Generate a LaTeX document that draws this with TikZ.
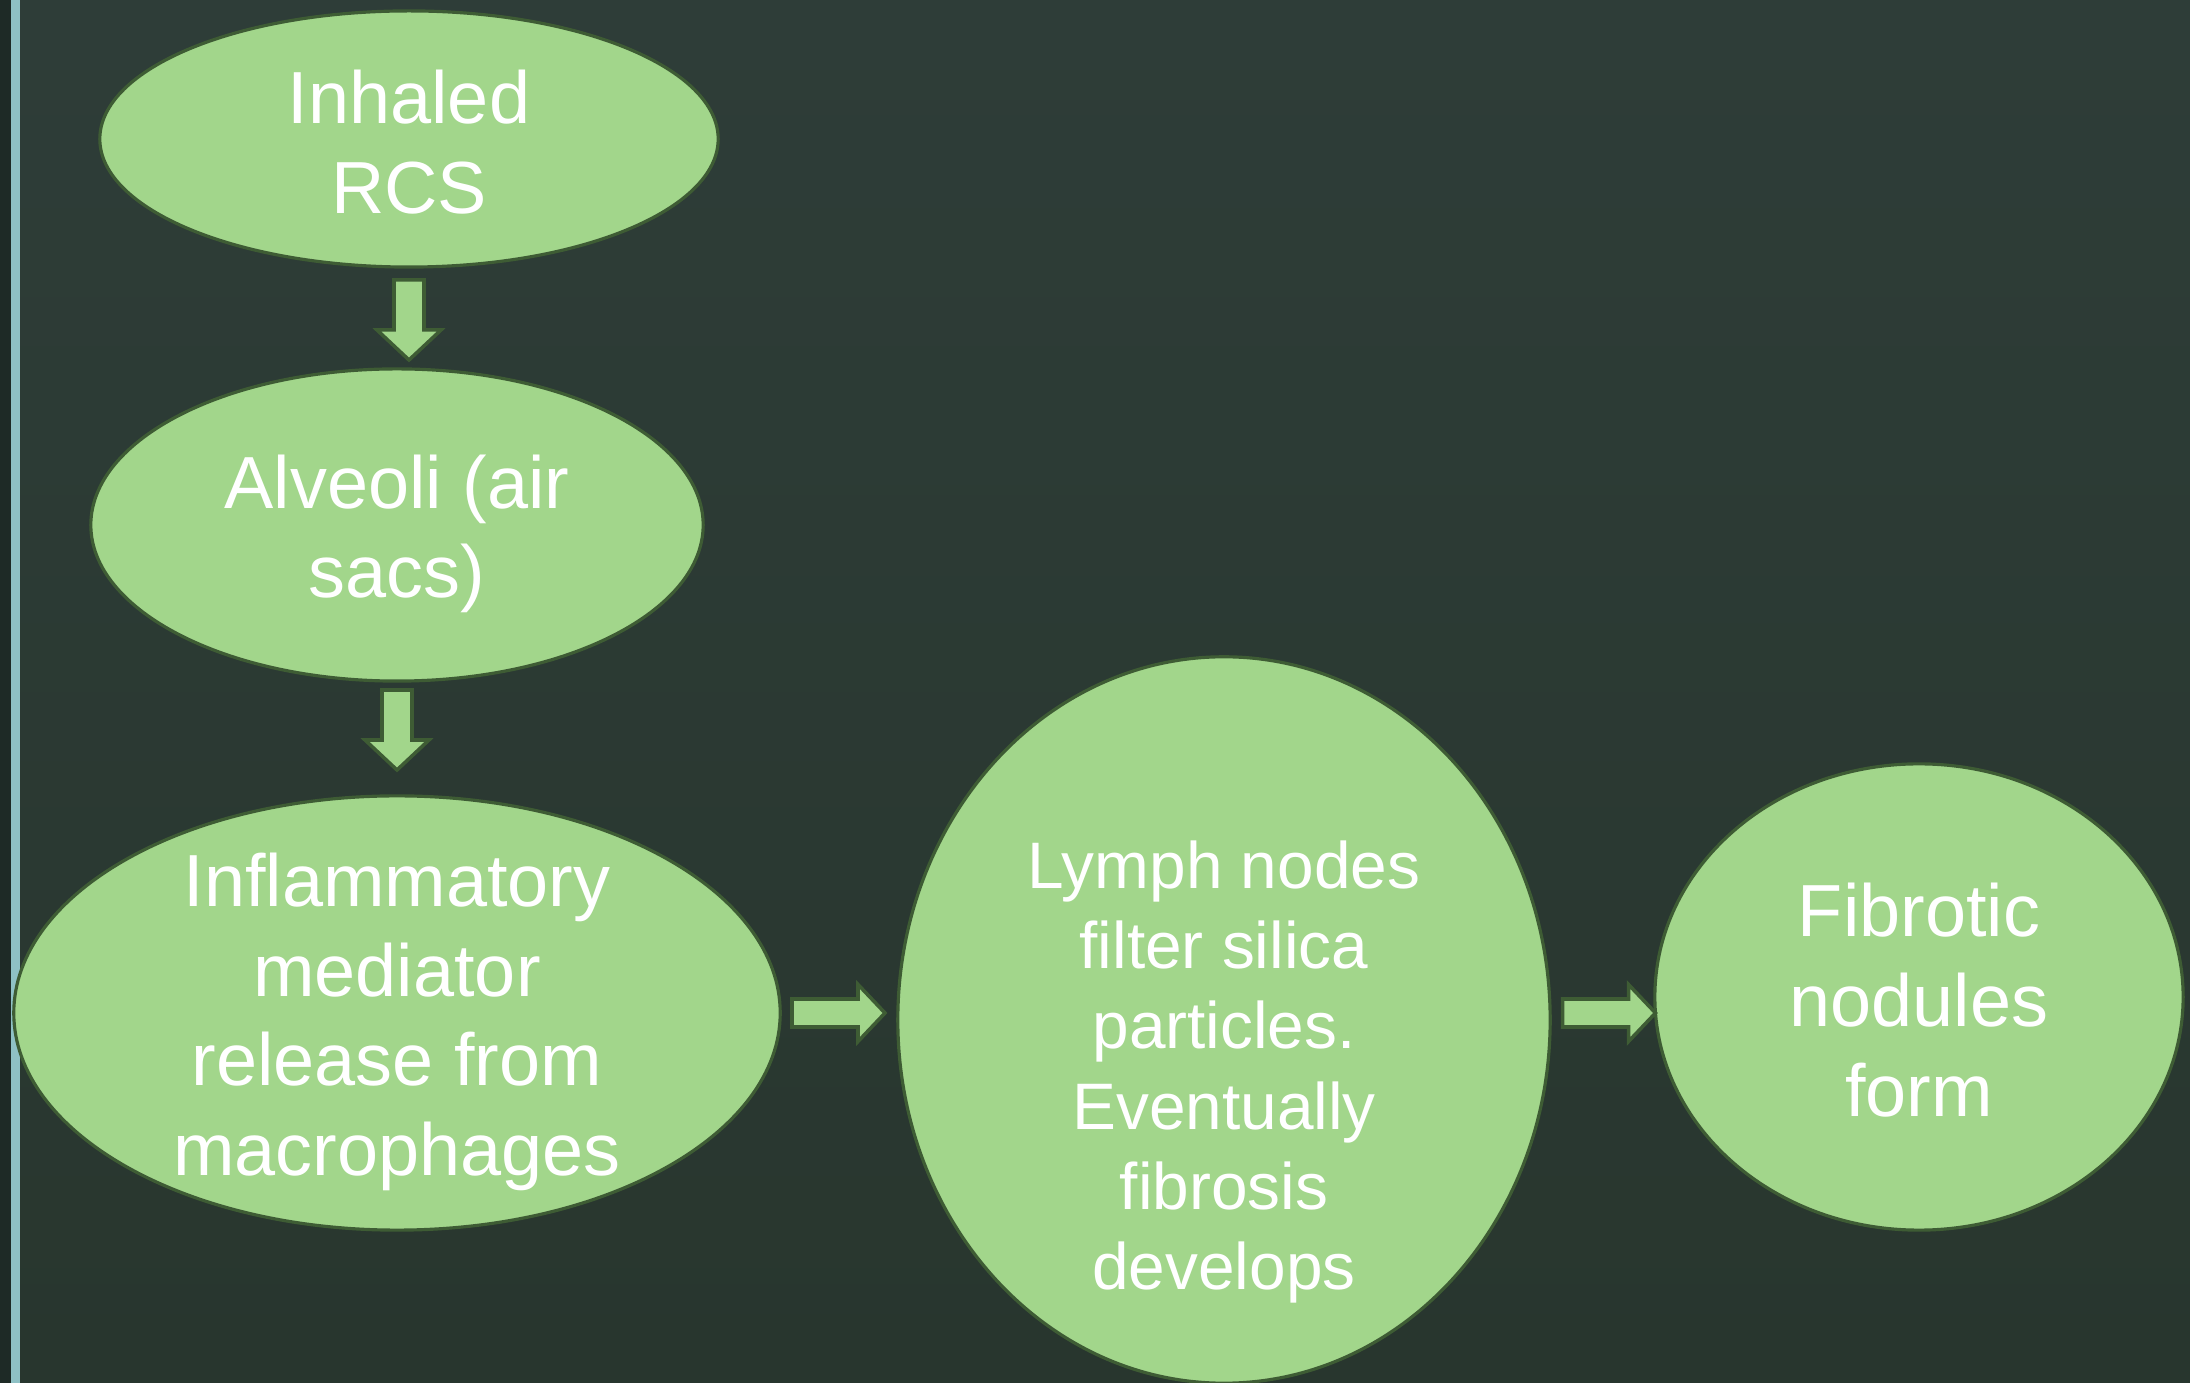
\documentclass[tikz,border=0pt]{standalone}
\usepackage{fontspec}
\setmainfont{Liberation Sans}
\usetikzlibrary{shapes.geometric,calc}
\definecolor{bgtop}{HTML}{2E3D38}
\definecolor{bgbot}{HTML}{28362E}
\definecolor{fillg}{HTML}{A2D68B}
\definecolor{lineg}{HTML}{3E5C34}
\definecolor{stripd}{HTML}{1E2A26}
\definecolor{stripb}{HTML}{8FC1C5}
\begin{document}
\begin{tikzpicture}[x=0.01cm,y=-0.01cm,
  ell/.style={ellipse,draw=lineg,fill=fillg,line width=0.9pt,inner sep=0pt},
  bigtxt/.style={text=white,align=center,inner sep=0pt,font=\fontsize{21}{25.5}\selectfont},
  smalltxt/.style={text=white,align=center,inner sep=0pt,font=\fontsize{18.7}{22.8}\selectfont},
  blk/.style={draw=lineg,fill=fillg,line width=1pt,line join=miter},
  downarr/.pic={\path[blk] (-15,-40) -- (-15,10) -- (-32,10) -- (0,40) -- (32,10) -- (15,10) -- (15,-40) -- cycle;},
  rightarr/.pic={\path[blk] (-46.5,-14) -- (19.5,-14) -- (19.5,-28.5) -- (46.5,0) -- (19.5,28.5) -- (19.5,14) -- (-46.5,14) -- cycle;}]
\shade[top color=bgtop,bottom color=bgbot] (0,0) rectangle (2190,1383);
\fill[stripd] (0,0) rectangle (11,1383);
\fill[stripb] (11,0) rectangle (20,1383);
\useasboundingbox (0,0) rectangle (2190,1383);

\node[ell,minimum width=6.18cm,minimum height=2.56cm] (e1) at (409,139) {};
\node[ell,minimum width=6.12cm,minimum height=3.12cm] (e2) at (397,525) {};
\node[ell,minimum width=7.66cm,minimum height=4.34cm] (e3) at (397,1013) {};
\node[ell,minimum width=6.52cm,minimum height=7.26cm] (e4) at (1224,1020) {};
\node[ell,minimum width=5.28cm,minimum height=4.66cm] (e5) at (1919,997) {};

\node[bigtxt] (t1) at ($(e1.center)+(0,3)$) {Inhaled\\RCS};
\node[bigtxt] (t2) at ($(e2.center)+(0,9)$) {Alveoli (air\\sacs)};
\node[bigtxt] (t3) at ($(e3.center)+(0,9)$) {Inflammatory\\mediator\\release from\\macrophages};
\node[smalltxt] (t4) at ($(e4.center)+(0,52)$) {Lymph nodes\\filter silica\\particles.\\Eventually\\fibrosis\\develops};
\node[bigtxt] (t5) at ($(e5.center)+(0,3)$) {Fibrotic\\nodules\\form};

\pic (a1) at (409,320) {downarr};
\pic (a2) at (397,730) {downarr};
\pic (a3) at (838.5,1013) {rightarr};
\pic (a4) at (1609,1013) {rightarr};
\end{tikzpicture}
\end{document}
